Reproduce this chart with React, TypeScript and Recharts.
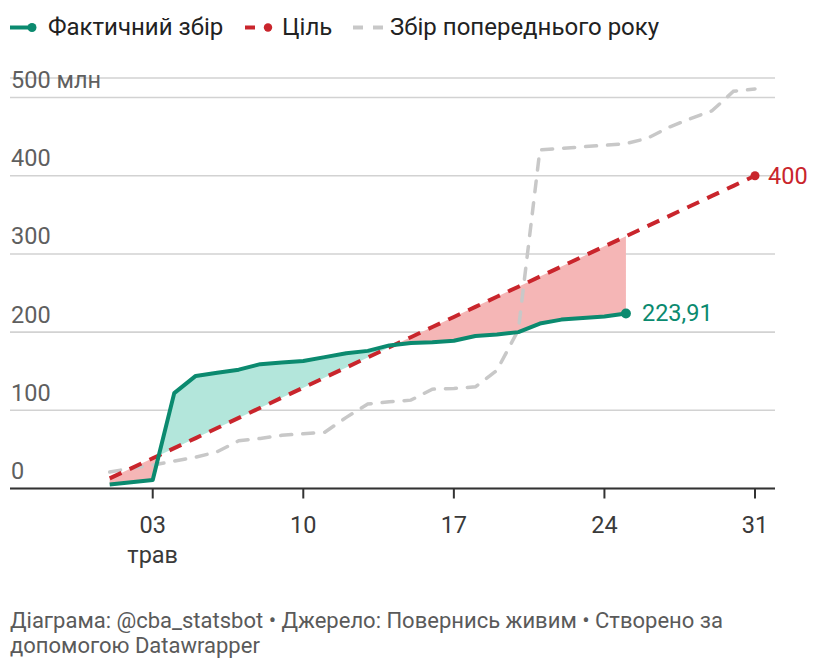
import { ComposedChart, Line, Area, XAxis, YAxis, CartesianGrid } from 'recharts';

const FONT = 'Roboto, "Noto Sans", sans-serif';

// days of May
const days = [1, 2, 3, 4, 5, 6, 7, 8, 9, 10, 11, 12, 13, 14, 15, 16, 17, 18, 19, 20, 21, 22, 23, 24, 25, 26, 27, 28, 29, 30, 31];
// actual collection, mln (known up to day 25)
const actual = [5, 8, 11, 122, 144, 148, 152, 159, 161, 163, 168, 173, 176, 183, 186, 187, 189, 195, 197, 200, 211, 216, 218, 220, 223.91];
// target path to 400 mln
const target = [12.9, 25.8, 38.7, 51.6, 64.5, 77.4, 90.3, 103.2, 116.1, 129, 141.9, 154.8, 167.7, 180.6, 193.5, 206.5, 219.4, 232.3, 245.2, 258.1, 271, 283.9, 296.8, 309.7, 322.6, 335.5, 348.4, 361.3, 374.2, 387.1, 400];
// previous year's collection
const previousYear = [21, 26, 30, 35, 40, 47, 61, 64, 68, 70, 72, 91, 108, 111, 113, 127, 128, 130, 151, 203, 433, 435, 437, 439, 441, 448, 462, 473, 483, 508, 511];

const xTicks = [3, 10, 17, 24, 31];
const yTicks = [0, 100, 200, 300, 400, 500];

const GREEN = '#0b8a6f';
const RED = '#c9252c';
const GRAY = '#c8c8c8';
const GREEN_FILL = '#b3e6db';
const RED_FILL = '#f5b6b6';

const lastIdx = actual.length - 1;

const data = days.map((day, i) => ({
  day,
  actual: i <= lastIdx ? actual[i] : null,
  target: target[i],
  prev: previousYear[i],
  band: i <= lastIdx ? [target[i], actual[i]] : null,
}));

// colour segments of the gap fill: green where actual is ahead of target, red where behind
const span = days[lastIdx] - days[0];
const segments: { from: number; to: number; color: string }[] = [];
let segStart = 0;
for (let i = 1; i <= lastIdx; i++) {
  const d0 = actual[i - 1] - target[i - 1];
  const d1 = actual[i] - target[i];
  if (d0 >= 0 !== d1 >= 0) {
    const t = d0 / (d0 - d1);
    const off = (days[i - 1] + t * (days[i] - days[i - 1]) - days[0]) / span;
    segments.push({ from: segStart, to: off, color: d0 >= 0 ? GREEN_FILL : RED_FILL });
    segStart = off;
  }
}
{
  const dl = actual[lastIdx] - target[lastIdx];
  segments.push({ from: segStart, to: 1, color: dl >= 0 ? GREEN_FILL : RED_FILL });
}

const XTick = (props: any) => {
  const { x, payload } = props;
  return (
    <g>
      <text x={x} y={525} textAnchor="middle" fontFamily={FONT} fontSize={23.5} fill="#3a3a3a">
        {String(payload.value).padStart(2, '0')}
      </text>
      {payload.value === 3 && (
        <text x={x} y={555} textAnchor="middle" fontFamily={FONT} fontSize={23.5} fill="#3a3a3a">
          трав
        </text>
      )}
    </g>
  );
};

const YTick = (props: any) => {
  const { y, payload } = props;
  return (
    <text x={3} y={y - 9.5} textAnchor="start" fontFamily={FONT} fontSize={23.5} fill="#5f5f5f">
      {payload.value === 500 ? '500 млн' : payload.value}
    </text>
  );
};

const legendText = {
  position: 'absolute' as const,
  top: 0,
  fontFamily: FONT,
  fontSize: 24,
  color: '#222',
  lineHeight: '28px',
  whiteSpace: 'nowrap' as const,
};

const App = () => {
  return (
    <div style={{ position: 'relative', width: 804, height: 650 }}>
      <div style={{ position: 'absolute', left: 0, top: 5, width: 804, height: 28 }}>
        <svg width={804} height={28} style={{ position: 'absolute', left: 0, top: 0 }}>
          <line x1={2} y1={14.5} x2={24} y2={14.5} stroke={GREEN} strokeWidth={4} />
          <circle cx={24} cy={14.5} r={4.5} fill={GREEN} />
          <line x1={237} y1={14.5} x2={247} y2={14.5} stroke={RED} strokeWidth={4} />
          <circle cx={260} cy={14.5} r={4.2} fill={RED} />
          <line x1={345} y1={14.5} x2={355} y2={14.5} stroke={GRAY} strokeWidth={4} />
          <line x1={365} y1={14.5} x2={375} y2={14.5} stroke={GRAY} strokeWidth={4} />
        </svg>
        <span style={{ ...legendText, left: 40 }}>Фактичний збір</span>
        <span style={{ ...legendText, left: 274 }}>Ціль</span>
        <span style={{ ...legendText, left: 382 }}>Збір попереднього року</span>
      </div>

      <div style={{ position: 'absolute', left: 0, top: 0 }}>
        <ComposedChart
          width={804}
          height={560}
          data={data}
          margin={{ top: 70, right: 37, bottom: 19.5, left: 2 }}
        >
          <defs>
            <linearGradient id="gapFill" x1="0" y1="0" x2="1" y2="0">
              {segments.flatMap((s, i) => [
                <stop key={`a${i}`} offset={s.from} stopColor={s.color} />,
                <stop key={`b${i}`} offset={s.to} stopColor={s.color} />,
              ])}
            </linearGradient>
          </defs>
          <CartesianGrid vertical={false} stroke="#d2d2d2" strokeWidth={1.6} />
          <XAxis
            dataKey="day"
            type="number"
            domain={[-3.635, 31.93]}
            allowDataOverflow
            ticks={xTicks}
            interval={0}
            height={60}
            axisLine={{ stroke: '#333', strokeWidth: 2 }}
            tickLine={{ stroke: '#333', strokeWidth: 2 }}
            tickSize={10}
            tick={<XTick />}
          />
          <YAxis
            type="number"
            domain={[0, 525]}
            ticks={yTicks}
            interval={0}
            width={60}
            mirror
            axisLine={false}
            tickLine={false}
            tick={<YTick />}
          />
          <Area
            dataKey="band"
            stroke="none"
            fill="url(#gapFill)"
            fillOpacity={1}
            type="linear"
            isAnimationActive={false}
            activeDot={false}
          />
          <Line
            dataKey="prev"
            type="linear"
            stroke={GRAY}
            strokeWidth={3.5}
            strokeDasharray="11 11"
            strokeLinecap="round"
            dot={false}
            isAnimationActive={false}
          />
          <Line
            dataKey="target"
            type="linear"
            stroke={RED}
            strokeWidth={4}
            strokeDasharray="13 9"
            dot={(p: any) =>
              p.payload.day === days[days.length - 1] ? (
                <circle key="tdot" cx={p.cx} cy={p.cy} r={4.5} fill={RED} />
              ) : (
                <g key={`t${p.index}`} />
              )
            }
            label={(p: any) =>
              p.value === target[target.length - 1] ? (
                <text key="tlab" x={p.x + 13} y={p.y + 8} fontFamily={FONT} fontSize={23.5} fill={RED}>
                  {p.value}
                </text>
              ) : null
            }
            isAnimationActive={false}
          />
          <Line
            dataKey="actual"
            type="linear"
            stroke={GREEN}
            strokeWidth={4}
            strokeLinejoin="round"
            dot={(p: any) =>
              p.payload.day === days[lastIdx] ? (
                <circle key="adot" cx={p.cx} cy={p.cy} r={5} fill={GREEN} />
              ) : (
                <g key={`a${p.index}`} />
              )
            }
            label={(p: any) =>
              p.value === actual[lastIdx] ? (
                <text key="alab" x={p.x + 16} y={p.y + 7.5} fontFamily={FONT} fontSize={23.5} fill={GREEN}>
                  {actual[lastIdx].toFixed(2).replace('.', ',')}
                </text>
              ) : null
            }
            isAnimationActive={false}
          />
        </ComposedChart>
      </div>

      <div
        style={{
          position: 'absolute',
          left: 2,
          top: 600,
          fontFamily: FONT,
          fontSize: 22,
          lineHeight: '25px',
          color: '#5a5a5a',
          whiteSpace: 'nowrap',
        }}
      >
        Діаграма: @cba_statsbot • Джерело: Повернись живим • Створено за
        <br />
        допомогою Datawrapper
      </div>
    </div>
  );
};

export default App;
